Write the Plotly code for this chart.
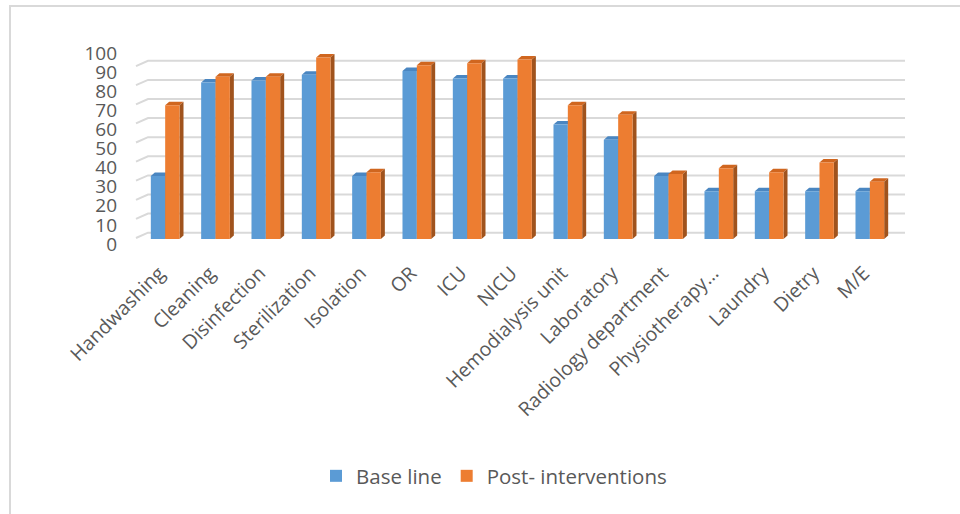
import plotly.graph_objects as go

# Infection-control compliance scores (%) by area
categories = [
    "Handwashing", "Cleaning", "Disinfection", "Sterilization", "Isolation",
    "OR", "ICU", "NICU", "Hemodialysis unit", "Laboratory",
    "Radiology department", "Physiotherapy…", "Laundry", "Dietry", "M/E",
]
baseline = [33, 82, 83, 86, 33, 88, 84, 84, 60, 52, 33, 25, 25, 25, 25]
post_interventions = [70, 85, 85, 95, 35, 91, 92, 94, 70, 65, 34, 37, 35, 40, 30]
y_ticks = list(range(0, 101, 10))

# Figure geometry
W, H = 960, 514
ML, MR, MT, MB = 140, 65, 48, 275
PW, PH = W - ML - MR, H - MT - MB
Y_MAX = 100
PX_PER_UNIT = PH / Y_MAX
BARGAP = 0.43
BAND_PX = PW / len(categories)
BAR_W = (1 - BARGAP) / 2          # width of one bar in category units
BAR_PX = BAR_W * BAND_PX
DX, DY = 4.0, 3.5                 # 3-D extrusion depth in pixels
DYU = DY / PX_PER_UNIT

BLUE, BLUE_TOP, BLUE_SIDE = "#5B9BD5", "#4A86C1", "#3E6F9E"
ORANGE, ORANGE_TOP, ORANGE_SIDE = "#ED7D31", "#D0661F", "#A0531D"
GRID = "#D9D9D9"
TEXT = "#595959"
FONT = "Open Sans, Noto Sans, sans-serif"

fig = go.Figure()
fig.add_trace(go.Bar(x=list(range(len(categories))), y=baseline, name="Base line",
                     marker=dict(color=BLUE, line=dict(width=0))))
fig.add_trace(go.Bar(x=list(range(len(categories))), y=post_interventions,
                     name="Post- interventions",
                     marker=dict(color=ORANGE, line=dict(width=0))))

shapes = []

# Back-wall gridlines with their slanted floor/side edge
for v in y_ticks:
    shapes.append(dict(
        type="path", layer="below",
        xref="paper", xsizemode="pixel", xanchor=0,
        yref="y", ysizemode="pixel", yanchor=v,
        path=f"M-4,1 L8,{DY + 2.8} L765,{DY + 2.8}",
        line=dict(color=GRID, width=2),
    ))

# Top and side faces giving each column its depth
def faces(value, left, top_col, side_col):
    right = left + BAR_W
    shapes.append(dict(
        type="path", layer="between",
        xref="x", xsizemode="pixel", xanchor=left,
        yref="y",
        path=(f"M0,{value} L{BAR_PX},{value} L{BAR_PX + DX},{value + DYU} "
              f"L{DX},{value + DYU} Z"),
        fillcolor=top_col, line=dict(width=0),
    ))
    shapes.append(dict(
        type="path", layer="between",
        xref="x", xsizemode="pixel", xanchor=right,
        yref="y",
        path=f"M0,0 L0,{value} L{DX},{value + DYU} L{DX},{DYU} Z",
        fillcolor=side_col, line=dict(width=0),
    ))

for i, (b, p) in enumerate(zip(baseline, post_interventions)):
    faces(b, i - BAR_W, BLUE_TOP, BLUE_SIDE)
    faces(p, i, ORANGE_TOP, ORANGE_SIDE)

# Chart frame
def px_x(px):
    return (px - ML) / PW

def px_y(py):
    return (H - MB - py) / PH

shapes.append(dict(
    type="path", xref="paper", yref="paper", layer="above",
    path=(f"M{px_x(10)},{px_y(530)} L{px_x(10)},{px_y(6)} L{px_x(980)},{px_y(6)}"),
    line=dict(color=GRID, width=2),
))

fig.update_layout(
    width=W, height=H,
    margin=dict(l=ML, r=MR, t=MT, b=MB, pad=0),
    paper_bgcolor="white", plot_bgcolor="rgba(0,0,0,0)",
    barmode="group", bargap=BARGAP, bargroupgap=0,
    font=dict(family=FONT, color=TEXT, size=17),
    shapes=shapes,
    showlegend=True,
    legend=dict(orientation="h", x=px_x(494), xanchor="center",
                y=px_y(476), yanchor="middle",
                font=dict(size=20.5, color=TEXT), itemwidth=30,
                traceorder="normal"),
    xaxis=dict(
        range=[-0.5, len(categories) - 0.5],
        tickmode="array", tickvals=list(range(len(categories))),
        ticktext=categories, tickangle=-45,
        showgrid=False, zeroline=False, showline=False, ticks="",
        ticklabelstandoff=18, ticklabelshift=-6,
        tickfont=dict(size=19.5, color=TEXT),
    ),
    yaxis=dict(
        range=[0, Y_MAX], tickmode="array", tickvals=y_ticks,
        showgrid=False, zeroline=False, showline=False, ticks="",
        ticklabelstandoff=22, ticklabelshift=5,
        tickfont=dict(size=19, color=TEXT),
    ),
)

fig.write_html("out.html")
